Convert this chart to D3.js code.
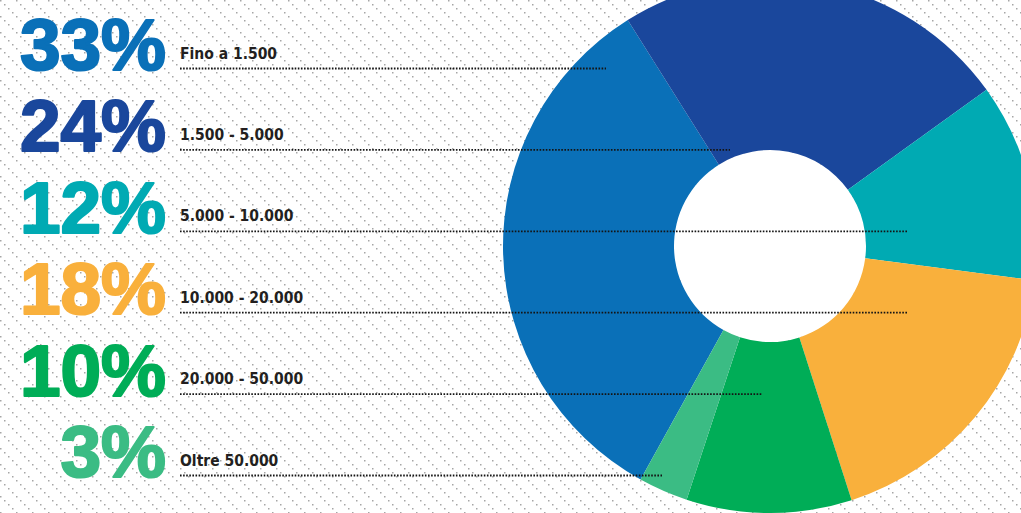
<!DOCTYPE html>
<html>
<head>
<meta charset="utf-8">
<script src="https://cdn.jsdelivr.net/npm/d3@7"></script>
<style>
  html, body { margin: 0; padding: 0; background: #fff; }
  svg { display: block; }
</style>
</head>
<body>
<svg id="chart" width="1021" height="513"></svg>
<script>
// Income brackets and their share of the total (percent)
const categories = ["Fino a 1.500", "1.500 - 5.000", "5.000 - 10.000", "10.000 - 20.000", "20.000 - 50.000", "Oltre 50.000"];
const shares = [33, 24, 12, 18, 10, 3];
const colors = ["#0a70b8", "#1a479c", "#00aab3", "#f9b03c", "#00ad57", "#3bbc84"];

// Layout
const W = 1021, H = 513;
const cx = 770, cy = 246, rInner = 96, rOuter = 267;
const startDeg = 209;
// horizontal reach of each leader line
const leaderEnd = [606, 730, 907, 907, 762, 662];

const svg = d3.select("#chart");
const defs = svg.append("defs");

// diagonal dotted hatch used as backdrop
const tile = 16, dotsPerTile = 4;
const pat = defs.append("pattern")
  .attr("id", "hatch")
  .attr("patternUnits", "userSpaceOnUse")
  .attr("width", tile).attr("height", tile);
d3.range(dotsPerTile).forEach(k => {
  pat.append("rect")
    .attr("x", k * tile / dotsPerTile).attr("y", k * tile / dotsPerTile)
    .attr("width", 1.5).attr("height", 1.5)
    .attr("fill", "#a6a6a6");
});
svg.append("rect").attr("width", W).attr("height", H).attr("fill", "#fff");
svg.append("rect").attr("width", W).attr("height", H).attr("fill", "url(#hatch)");

// donut
const pie = d3.pie().sort(null).value(d => d)
  .startAngle(startDeg * Math.PI / 180)
  .endAngle((startDeg + 360) * Math.PI / 180);
const arc = d3.arc().innerRadius(rInner).outerRadius(rOuter);
const g = svg.append("g").attr("transform", `translate(${cx},${cy})`);
g.append("circle").attr("r", rInner).attr("fill", "#fff");
g.selectAll("path.slice")
  .data(pie(shares))
  .join("path")
  .attr("class", "slice")
  .attr("d", arc)
  .attr("fill", (d, i) => colors[i]);

// rows
const y = d3.scaleLinear().domain([0, categories.length - 1]).range([70, 477]);

const rows = svg.append("g");
const row = rows.selectAll("g.row")
  .data(categories)
  .join("g")
  .attr("class", "row");

row.append("line")
  .attr("x1", 180)
  .attr("x2", (d, i) => leaderEnd[i])
  .attr("y1", (d, i) => y(i) - 1.5)
  .attr("y2", (d, i) => y(i) - 1.5)
  .attr("stroke", "#141414")
  .attr("stroke-width", 1.8)
  .attr("stroke-dasharray", "1.6 1.5");

row.append("text")
  .attr("x", 180)
  .attr("y", (d, i) => y(i) - 11.5)
  .attr("font-family", "'DejaVu Sans Condensed', 'DejaVu Sans', sans-serif")
  .attr("font-weight", "bold")
  .attr("font-size", 15.5)
  .attr("fill", "#231f20")
  .text(d => d);

row.append("text")
  .attr("x", 166)
  .attr("y", (d, i) => y(i))
  .attr("text-anchor", "end")
  .attr("font-family", "'Liberation Sans', Arial, sans-serif")
  .attr("font-weight", "bold")
  .attr("font-size", 73)
  .attr("fill", (d, i) => colors[i])
  .attr("stroke", (d, i) => colors[i])
  .attr("stroke-width", 2.2)
  .attr("stroke-linejoin", "round")
  .text((d, i) => shares[i] + "%");
</script>
</body>
</html>
